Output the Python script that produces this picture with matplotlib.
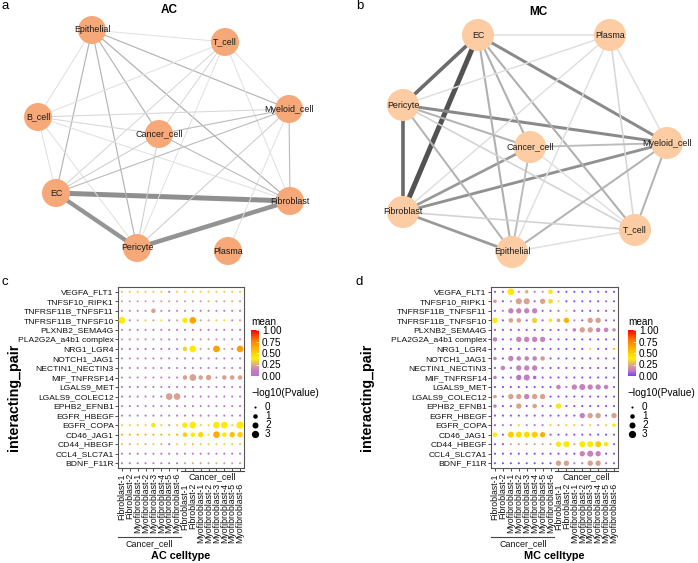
import numpy as np
import matplotlib
matplotlib.use('Agg')
import matplotlib.pyplot as plt
import matplotlib.transforms as mtransforms
from matplotlib.colors import LinearSegmentedColormap, Normalize
from matplotlib.cm import ScalarMappable
from matplotlib.patches import Circle

plt.rcParams['font.family'] = ['Liberation Sans', 'DejaVu Sans']

W, H = 698, 563

pairs = ['VEGFA_FLT1', 'TNFSF10_RIPK1', 'TNFRSF11B_TNFSF11', 'TNFRSF11B_TNFSF10',
         'PLXNB2_SEMA4G', 'PLA2G2A_a4b1 complex', 'NRG1_LGR4', 'NOTCH1_JAG1',
         'NECTIN1_NECTIN3', 'MIF_TNFRSF14', 'LGALS9_MET', 'LGALS9_COLEC12',
         'EPHB2_EFNB1', 'EGFR_HBEGF', 'EGFR_COPA', 'CD46_JAG1', 'CD44_HBEGF',
         'CCL4_SLC7A1', 'BDNF_F11R']
subtypes = ['Fibroblast-1', 'Fibroblast-2', 'Myofibroblast-1', 'Myofibroblast-2',
            'Myofibroblast-3', 'Myofibroblast-4', 'Myofibroblast-5', 'Myofibroblast-6']
group_name = 'Cancer_cell'
pval_levels = [0, 1, 2, 3]
mean_ticks = [0.0, 0.25, 0.5, 0.75, 1.0]

# AC mean expression (rows = pairs, cols = 8 subtypes x 2 directions)
ac_mean = np.array([
    [.32, .32, .32, .32, .32, .32, .03, .32, .32, .32, .32, .32, .32, .32, .32, .32],
    [.22, .22, .22, .22, .22, .22, .22, .22, .22, .22, .22, .28, .22, .22, .28, .22],
    [.12, .12, .14, .12, .22, .12, .06, .12, .12, .12, .06, .12, .12, .06, .12, .12],
    [.40, .12, .22, .32, .22, .36, .12, .22, .40, .65, .22, .22, .32, .36, .12, .22],
    [.06, .10, .06, .10, .06, .10, .06, .06, .10, .06, .10, .06, .10, .06, .10, .06],
    [.18, .16, .18, .16, .18, .16, .12, .18, .18, .16, .18, .16, .18, .16, .18, .16],
    [.05, .05, .05, .05, .05, .05, .05, .05, .32, .40, .22, .22, .65, .22, .12, .65],
    [.12, .12, .12, .12, .12, .12, .10, .12, .12, .12, .12, .12, .12, .12, .12, .12],
    [.12, .10, .12, .10, .12, .10, .08, .12, .10, .12, .10, .12, .10, .12, .10, .12],
    [.14, .14, .14, .14, .14, .14, .12, .14, .22, .22, .22, .22, .16, .22, .22, .22],
    [.06, .10, .06, .10, .06, .10, .06, .06, .10, .06, .10, .06, .10, .06, .10, .06],
    [.05, .05, .05, .10, .05, .05, .22, .22, .05, .10, .05, .05, .10, .05, .05, .10],
    [.10, .06, .10, .06, .10, .06, .10, .06, .10, .06, .10, .06, .10, .06, .10, .06],
    [.06, .06, .08, .06, .06, .08, .06, .06, .06, .08, .06, .06, .08, .06, .06, .08],
    [.32, .32, .32, .32, .36, .32, .22, .32, .40, .40, .32, .32, .40, .40, .32, .40],
    [.60, .60, .60, .60, .60, .60, .55, .60, .50, .40, .45, .36, .62, .40, .55, .50],
    [.32, .26, .32, .26, .32, .26, .05, .32, .32, .55, .32, .32, .32, .32, .32, .32],
    [.06, .10, .06, .06, .10, .06, .06, .10, .06, .10, .06, .06, .10, .06, .06, .10],
    [.05, .05, .05, .05, .05, .05, .05, .05, .22, .26, .22, .22, .26, .22, .22, .22],
])
ac_pval = np.array([
    [0] * 16,
    [0] * 16,
    [0, 0, 0, 0, 1, 0, 0, 0, 0, 0, 0, 0, 0, 0, 0, 0],
    [2.5, 0, 0, 0, 0, 0, 0, 0, 1.5, 2.5, 0, 0, 0, 0, 0, 0],
    [0] * 16,
    [0] * 16,
    [0, 0, 0, 0, 0, 0, 0, 0, 1, 2.5, 0, 0, 2.5, 0, 0, 2.5],
    [0] * 16,
    [0] * 16,
    [0, 0, 0, 0, 0, 0, 0, 0, 1, 2.5, 1, 1.5, 0, 1, 1, 1],
    [0] * 16,
    [0, 0, 0, 0, 0, 0, 2.5, 2.5, 0, 0, 0, 0, 0, 0, 0, 0],
    [0] * 16,
    [0] * 16,
    [0, 0, 0, 0, 1, 0, 0, 0, 1.5, 2.5, 0, 0, 2.5, 2.5, 0, 3],
    [0, 0, 0, 0, 0, 0, 0, 0, 1, 1, 1.5, 0, 2.5, 1, 1.5, 1.5],
    [0] * 16,
    [0] * 16,
    [0] * 16,
])

# MC mean expression
mc_mean = np.array([
    [.03, .05, .40, .12, .26, .10, .16, .36, .03, .03, .03, .03, .03, .03, .03, .03],
    [.20, .03, .12, .22, .22, .05, .22, .34, .32, .03, .03, .03, .03, .03, .08, .03],
    [.03, .10, .13, .13, .13, .13, .05, .05, .08, .32, .03, .03, .03, .03, .03, .03],
    [.40, .03, .22, .22, .05, .32, .05, .36, .22, .60, .12, .05, .22, .22, .05, .05],
    [.03, .03, .03, .03, .03, .03, .03, .03, .03, .10, .12, .22, .22, .13, .13, .16],
    [.13, .03, .05, .13, .13, .13, .13, .03, .03, .03, .03, .03, .03, .03, .03, .03],
    [.03, .03, .03, .03, .03, .03, .03, .03, .03, .03, .03, .03, .32, .03, .03, .60],
    [.13, .03, .13, .13, .13, .13, .20, .03, .03, .03, .03, .03, .03, .03, .03, .03],
    [.05, .13, .05, .13, .13, .13, .05, .03, .03, .03, .03, .03, .03, .03, .03, .03],
    [.13, .03, .05, .10, .12, .08, .03, .03, .03, .03, .03, .03, .03, .03, .03, .03],
    [.03, .03, .03, .03, .03, .03, .03, .03, .13, .08, .13, .13, .13, .13, .13, .03],
    [.20, .03, .22, .22, .13, .22, .22, .03, .03, .03, .03, .03, .03, .03, .03, .03],
    [.13, .03, .05, .22, .03, .22, .03, .03, .36, .03, .03, .03, .03, .03, .03, .03],
    [.03, .03, .03, .03, .03, .03, .03, .03, .03, .03, .03, .13, .22, .22, .05, .22],
    [.05, .10, .10, .32, .12, .10, .10, .32, .22, .32, .32, .16, .32, .16, .32, .36],
    [.40, .03, .50, .45, .45, .50, .60, .03, .03, .03, .03, .03, .03, .03, .03, .03],
    [.03, .03, .22, .22, .22, .22, .22, .22, .36, .40, .22, .40, .40, .50, .36, .05],
    [.03, .03, .03, .03, .03, .03, .03, .03, .03, .03, .03, .13, .13, .13, .03, .03],
    [.03, .03, .03, .03, .03, .03, .03, .03, .22, .22, .10, .10, .22, .22, .10, .03],
])
mc_pval = np.array([
    [0, 0, 2.5, 0, .5, 0, 0, 1, 0, 0, 0, 0, 0, 0, 0, 0],
    [.5, 0, 0, 2, 2, 0, 1.5, 1, 0, 0, 0, 0, 0, 0, 0, 0],
    [0, 0, 1.5, 1.5, 1.5, 1.5, 0, 0, 0, 0, 0, 0, 0, 0, 0, 0],
    [1.5, 0, 1, 1, 0, 1.5, 0, .5, .5, 1.5, 0, 0, 1.5, 1.5, 0, 0],
    [0, 0, 0, 0, 0, 0, 0, 0, 0, 0, .5, 1.5, 1.5, 1, 1, .5],
    [1, 0, 0, 1.5, 1.5, 1.5, 1.5, 0, 0, 0, 0, 0, 0, 0, 0, 0],
    [0] * 16,
    [.5, 0, 1.5, 1, 1, 1, 1, 0, 0, 0, 0, 0, 0, 0, 0, 0],
    [0, 1, 0, 1.5, 1.5, 1.5, 0, 0, 0, 0, 0, 0, 0, 0, 0, 0],
    [.5, 0, 0, 1.5, 2, .5, 0, 0, 0, 0, 0, 0, 0, 0, 0, 0],
    [0, 0, 0, 0, 0, 0, 0, 0, 1, 0, 1.5, 2, 1.5, 1.5, 1, 0],
    [.5, 0, 1.5, 1.5, 1.5, 1.5, 1.5, 0, 0, 0, 0, 0, 0, 0, 0, 0],
    [.5, 0, 0, 1.5, 0, 1, 0, 0, 1.5, 0, 0, 0, 0, 0, 0, 0],
    [0, 0, 0, 0, 0, 0, 0, 0, 0, 0, 0, 1.5, 1.5, 1.5, 0, 1.5],
    [0, 0, 0, 0, 0, 0, 0, 0, 0, 0, 0, 0, 0, 0, 0, .5],
    [1, 0, 2, 2, 2, 2, 1.5, 0, 0, 0, 0, 0, 0, 0, 0, 0],
    [0, 0, 0, 0, 0, 0, 0, 0, 1.5, 2, 0, 2, 2, 2, 1, 0],
    [0, 0, 0, 0, 0, 0, 0, 0, 0, 0, 0, 1.5, 2, 1.5, 0, 0],
    [0, 0, 0, 0, 0, 0, 0, 0, 1.5, 1.5, 0, 0, 1.5, 1.5, 0, 0],
])

# network layouts (pixel positions from the igraph drawing) and edge weights
ac_layout = {'Epithelial': (92, 30), 'T_cell': (225, 42), 'B_cell': (38, 117),
             'Myeloid_cell': (289, 109), 'Cancer_cell': (159, 134), 'EC': (56, 193),
             'Fibroblast': (290, 201), 'Pericyte': (137, 248), 'Plasma': (228, 251)}
ac_edges = [
    ('EC', 'Fibroblast', 10), ('EC', 'Pericyte', 8.5), ('Pericyte', 'Fibroblast', 9),
    ('Epithelial', 'Myeloid_cell', 2), ('Epithelial', 'Fibroblast', 2.2),
    ('Epithelial', 'Cancer_cell', 2), ('Epithelial', 'Pericyte', 2), ('Epithelial', 'EC', 2),
    ('Epithelial', 'T_cell', 1), ('Epithelial', 'B_cell', 1),
    ('T_cell', 'B_cell', 1), ('T_cell', 'Myeloid_cell', 1), ('T_cell', 'Cancer_cell', 1.2),
    ('T_cell', 'EC', 1.2), ('T_cell', 'Pericyte', 1), ('T_cell', 'Fibroblast', 1),
    ('B_cell', 'Myeloid_cell', 1.2), ('B_cell', 'Cancer_cell', 1.2), ('B_cell', 'EC', 1),
    ('B_cell', 'Fibroblast', 1), ('B_cell', 'Pericyte', 1),
    ('Myeloid_cell', 'Cancer_cell', 1.8), ('Myeloid_cell', 'EC', 1.8),
    ('Myeloid_cell', 'Pericyte', 1.4), ('Myeloid_cell', 'Fibroblast', 1.8),
    ('Myeloid_cell', 'Plasma', 1),
    ('Cancer_cell', 'Fibroblast', 1.8), ('Cancer_cell', 'EC', 1.4), ('Cancer_cell', 'Pericyte', 1.4),
]
mc_layout = {'EC': (478, 35), 'Plasma': (610, 35), 'Pericyte': (403, 105),
             'Cancer_cell': (530, 147), 'Myeloid_cell': (667, 143), 'Fibroblast': (403, 212),
             'T_cell': (635, 230), 'Epithelial': (512, 252)}
mc_edges = [
    ('EC', 'Fibroblast', 10), ('EC', 'Pericyte', 7), ('Pericyte', 'Fibroblast', 7),
    ('EC', 'Myeloid_cell', 5), ('Pericyte', 'Myeloid_cell', 5), ('Fibroblast', 'Myeloid_cell', 4.5),
    ('Fibroblast', 'Cancer_cell', 4), ('Fibroblast', 'Epithelial', 4),
    ('EC', 'Plasma', 1), ('EC', 'Cancer_cell', 2.2), ('EC', 'Epithelial', 2.2), ('EC', 'T_cell', 2.2),
    ('Plasma', 'Pericyte', 1), ('Plasma', 'Epithelial', 1), ('Plasma', 'T_cell', 1.2),
    ('Plasma', 'Myeloid_cell', 1), ('Plasma', 'Fibroblast', 1),
    ('Pericyte', 'Cancer_cell', 2), ('Pericyte', 'T_cell', 1.3), ('Pericyte', 'Epithelial', 2),
    ('Cancer_cell', 'Myeloid_cell', 1.8), ('Cancer_cell', 'Epithelial', 1.8), ('Cancer_cell', 'T_cell', 1),
    ('Myeloid_cell', 'T_cell', 2), ('Myeloid_cell', 'Epithelial', 2),
    ('Fibroblast', 'T_cell', 1.3), ('Epithelial', 'T_cell', 1),
]

PX = 0.72  # points per pixel at dpi 100


def px_rect(x0, y0, x1, y1):
    return [x0 / W, 1 - y1 / H, (x1 - x0) / W, (y1 - y0) / H]


def dot_size(p):
    diam = np.sqrt(4.5 + 16 * np.asarray(p, dtype=float))
    return (diam * PX) ** 2


def make_cmap(low):
    stops = [0.0, 0.12, 0.24, 0.38, 0.55, 0.78, 1.0]
    cols = [low, '#C57EC2', '#DCA889', '#FFF000', '#FFC000', '#FF7A00', '#FF0000']
    return LinearSegmentedColormap.from_list('cpdb', list(zip(stops, cols)))


def draw_network(canvas, layout, edges, node_color, radius, w_pts, grey_pts, lw_pts):
    for a, b, w in edges:
        (x0, y0), (x1, y1) = layout[a], layout[b]
        g = np.interp(w, w_pts, grey_pts)
        lw = np.interp(w, w_pts, lw_pts) * PX
        canvas.plot([x0, x1], [y0, y1], color=(g, g, g), lw=lw, solid_capstyle='butt', zorder=1)
    for name, (x, y) in layout.items():
        canvas.add_patch(Circle((x, y), radius, color=node_color, lw=0, zorder=2))
        canvas.text(x, y, name, fontsize=6.4, ha='center', va='center', color='#1a1a1a', zorder=3)


def dot_panel(box, means, pvals, cmap, xlabel, ylabel_x, legend_x):
    ax = fig.add_axes(px_rect(*box))
    n_rows, n_cols = means.shape
    xx, yy = np.meshgrid(np.arange(n_cols), np.arange(n_rows))
    ax.scatter(xx.ravel(), yy.ravel(), s=dot_size(pvals.ravel()), c=means.ravel(),
               cmap=cmap, vmin=0, vmax=1, linewidths=0, zorder=3)
    ax.set_xlim(-0.5, n_cols - 0.5)
    ax.set_ylim(n_rows - 0.5, -0.5)
    ax.set_yticks(range(n_rows))
    ax.set_yticklabels(pairs)
    ax.set_xticks(range(n_cols))
    ax.set_xticklabels([])
    ax.tick_params(axis='both', length=2, width=0.6, color='#333333', pad=1,
                   labelsize=6.1, labelcolor='#111111')
    for sp in ax.spines.values():
        sp.set_color('#555555')
        sp.set_linewidth(0.8)

    def below(dy):
        return mtransforms.offset_copy(ax.get_xaxis_transform(), fig=fig, x=0, y=-dy, units='dots')

    labels = subtypes + subtypes
    for i, lab in enumerate(labels):
        dy = 5 if i < 8 else 15
        ax.text(i, 0, lab, transform=below(dy), rotation=90, ha='center', va='top',
                fontsize=6.3, color='#111111')
    # nested group labels
    ax.plot([-0.45, 7.45], [0, 0], transform=below(69), color='#444444', lw=0.8, clip_on=False)
    ax.text(3.5, 0, group_name, transform=below(71), ha='center', va='top', fontsize=6.4, color='#111111')
    ax.plot([7.55, 15.45], [0, 0], transform=below(3), color='#444444', lw=0.8, clip_on=False)
    ax.text(11.5, 0, group_name, transform=below(4.5), ha='center', va='top', fontsize=6.4, color='#111111')
    ax.text((n_cols - 1) / 2, 0, xlabel, transform=below(88), ha='center', va='center',
            fontsize=7.8, fontweight='bold')

    canvas.text(ylabel_x, 397, 'interacting_pair', rotation=90, ha='center',
                va='center', fontsize=10.3, fontweight='bold')

    # legend: colour bar for mean
    canvas.text(legend_x, 322, 'mean', fontsize=7.2, ha='left', va='center')
    cax = fig.add_axes(px_rect(legend_x, 330, legend_x + 8, 376))
    cb = fig.colorbar(ScalarMappable(Normalize(0, 1), cmap), cax=cax, ticks=mean_ticks)
    cb.outline.set_visible(False)
    cb.ax.set_yticklabels(['%.2f' % t for t in mean_ticks])
    cb.ax.tick_params(length=2, width=0.5, color='white', direction='in', pad=2, labelsize=7.2)

    # legend: dot size for -log10(Pvalue)
    canvas.text(legend_x, 393, '\u2212log10(Pvalue)', fontsize=7.2, ha='left', va='center')
    for k, lv in enumerate(pval_levels):
        y = 407 + 9 * k
        canvas.scatter([legend_x + 4], [y], s=dot_size(lv), color='black', linewidths=0)
        canvas.text(legend_x + 14, y, str(lv), fontsize=7.2, ha='left', va='center')
    return ax


fig = plt.figure(figsize=(W / 100, H / 100), dpi=100)
canvas = fig.add_axes([0, 0, 1, 1])
canvas.set_xlim(0, W)
canvas.set_ylim(H, 0)
canvas.axis('off')

draw_network(canvas, ac_layout, ac_edges, '#F6A878', 14,
             [1, 2, 10], [0.88, 0.70, 0.56], [1.0, 1.15, 5.0])
draw_network(canvas, mc_layout, mc_edges, '#FDCCA3', 16,
             [1, 2, 4, 5, 7, 10], [0.88, 0.70, 0.60, 0.54, 0.42, 0.32], [1.5, 2.0, 2.7, 3.0, 3.6, 5.0])
canvas.text(169, 10, 'AC', fontsize=8.5, fontweight='bold', ha='center', va='center')
canvas.text(538, 12, 'MC', fontsize=8.5, fontweight='bold', ha='center', va='center')

for letter, x, y in [('a', 2, 6), ('b', 356, 6), ('c', 2, 282), ('d', 356, 282)]:
    canvas.text(x, y, letter, fontsize=9.5, ha='left', va='center')

dot_panel((118, 287, 244, 468), ac_mean, ac_pval, make_cmap('#B274D6'), 'AC celltype', 14, 251)
dot_panel((491, 287, 618, 468), mc_mean, mc_pval, make_cmap('#7B3FF7'), 'MC celltype', 367, 628)

fig.savefig('out.png', dpi=100)
